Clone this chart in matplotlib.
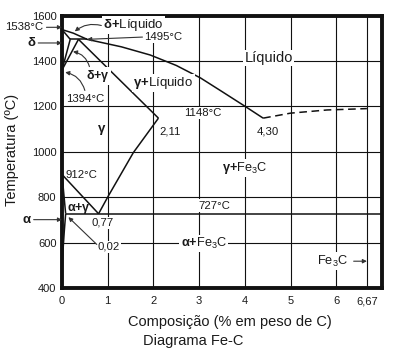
import matplotlib
matplotlib.use('Agg')
import matplotlib.pyplot as plt

plt.rcParams['font.family'] = ['Liberation Sans', 'DejaVu Sans']
plt.rcParams['mathtext.fontset'] = 'custom'
plt.rcParams['mathtext.rm'] = 'Liberation Sans'
plt.rcParams['mathtext.bf'] = 'Liberation Sans:bold'
plt.rcParams['mathtext.it'] = 'Liberation Sans:italic'

# ---------------- data ----------------
x_ticks = [0, 1, 2, 3, 4, 5, 6, 6.67]
x_tick_labels = ['0', '1', '2', '3', '4', '5', '6', '6,67']
y_ticks = [400, 600, 800, 1000, 1200, 1400, 1600]

liquidus_x = [0, 0.25, 0.55, 1.3, 1.93, 2.5, 3.03, 3.5, 4.02, 4.4]
liquidus_t = [1538, 1522, 1495, 1462, 1426, 1380, 1325, 1265, 1198, 1148]
delta_solidus_x = [0, 0.18]
delta_solidus_t = [1538, 1495]
peritectic_x = [0.18, 0.55]
peritectic_t = [1495, 1495]
delta_bound_x = [0.18, 0]
delta_bound_t = [1495, 1360]
gamma_upper_x = [0.36, 0]
gamma_upper_t = [1495, 1360]
gamma_solidus_x = [0.36, 2.11]
gamma_solidus_t = [1495, 1148]
acm_x = [0.8, 1.01, 1.56, 2.11]
acm_t = [727, 804, 996, 1148]
a3_x = [0, 0.8]
a3_t = [900, 727]
alpha_gamma_x = [0, 0.08]
alpha_gamma_t = [900, 727]
alpha_solvus_x = [0.08, 0.05, 0.02, 0]
alpha_solvus_t = [727, 650, 560, 470]
eutectoid_x = [0.08, 7.0]
eutectoid_t = [727, 727]
cem_x = [4.4, 5.0, 5.8, 6.67]
cem_t = [1148, 1170, 1184, 1190]

TXT = '#1a1a1a'

fig = plt.figure(figsize=(3.93, 3.54), dpi=100)
ax = fig.add_axes([62 / 393, 66 / 354, 320 / 393, 272.5 / 354])
ax.set_xlim(0, 7.0)
ax.set_ylim(400, 1600)
ax.set_xticks(x_ticks)
ax.set_xticklabels(x_tick_labels)
ax.set_yticks(y_ticks)
ax.tick_params(length=0, labelsize=8, colors=TXT)
ax.tick_params(axis='x', pad=6)
ax.tick_params(axis='y', pad=4)
for s in ax.spines.values():
    s.set_linewidth(2.8)
    s.set_color('#111111')
ax.grid(True, color='#111111', lw=0.8, zorder=1)
ax.set_axisbelow(True)

lk = dict(color='#111111', lw=1.1, zorder=2, solid_capstyle='butt')
for xs, ts in [(liquidus_x, liquidus_t), (delta_solidus_x, delta_solidus_t),
               (peritectic_x, peritectic_t), (delta_bound_x, delta_bound_t),
               (gamma_upper_x, gamma_upper_t), (gamma_solidus_x, gamma_solidus_t),
               (acm_x, acm_t), (a3_x, a3_t), (alpha_gamma_x, alpha_gamma_t),
               (alpha_solvus_x, alpha_solvus_t), (eutectoid_x, eutectoid_t)]:
    ax.plot(xs, ts, **lk)
ax.plot(cem_x, cem_t, color='#111111', lw=1.1, ls=(0, (5, 3)), zorder=2)

bb = dict(boxstyle='square,pad=0.1', fc='white', ec='none')


def lab(x, y, s, size=8.2, ha='left', va='center', box=True, **kw):
    ax.text(x, y, s, fontsize=size, ha=ha, va=va, color=TXT, zorder=4,
            bbox=bb if box else None, clip_on=False, **kw)


def arrow(xy, xytext, cs='arc3,rad=0'):
    ax.annotate('', xy=xy, xytext=xytext, annotation_clip=False,
                arrowprops=dict(arrowstyle='-|>', lw=0.8, color='#333333',
                                mutation_scale=6, shrinkA=0, shrinkB=0,
                                connectionstyle=cs), zorder=5)


lab(4.52, 1413, 'Líquido', size=10.5, ha='center')
lab(1.56, 1303, r'$\mathbf{γ{+}}$Líquido', size=9.5)
lab(0.9, 1558, r'$\mathbf{δ{+}}$Líquido', size=9.5)
lab(1.8, 1505, '1495°C')
lab(-0.42, 1548, '1538°C', ha='right', box=False)
lab(-0.55, 1479, r'$\mathbf{δ}$', size=9.5, ha='right', box=False)
lab(0.52, 1334, r'$\mathbf{δ{+}γ}$', size=9)
lab(0.1, 1233, '1394°C')
lab(0.86, 1096, r'$\mathbf{γ}$', size=9.5, ha='center')
lab(2.13, 1088, '2,11', box=False)
lab(4.25, 1089, '4,30', box=False)
lab(3.08, 1170, '1148°C', ha='center')
lab(3.99, 928, r'$\mathbf{γ{+}}$Fe$_3$C', size=9.2, ha='center')
lab(0.07, 899, '912°C', box=False)
lab(3.33, 763, '727°C', ha='center')
lab(0.1, 748, r'$\mathbf{α{+}γ}$', size=9, box=False)
lab(0.65, 687, '0,77')
lab(-0.65, 701, r'$\mathbf{α}$', size=9.5, ha='right', box=False)
lab(0.77, 581, '0,02')
lab(3.1, 596, r'$\mathbf{α{+}}$Fe$_3$C', size=9.2, ha='center')
lab(5.57, 518, 'Fe$_3$C', size=9.2)

arrow((0, 1548), (-0.34, 1548))
arrow((0, 1479), (-0.52, 1479))
arrow((0, 701), (-0.62, 701))
arrow((0.28, 1530), (0.86, 1556), cs='arc3,rad=0.25')
arrow((0.55, 1495), (1.76, 1505))
arrow((0.24, 1441), (0.6, 1375), cs='arc3,rad=0.3')
arrow((0.07, 1350), (0.5, 1270), cs='arc3,rad=0.3')
arrow((0.14, 712), (0.76, 592))
arrow((6.67, 518), (6.38, 518))

fig.text(12 / 393, 1 - 150 / 354, 'Temperatura (ºC)', rotation=90,
         ha='center', va='center', fontsize=10.5, color=TXT)
fig.text(230 / 393, 1 - 322 / 354, 'Composição (% em peso de C)',
         ha='center', va='center', fontsize=10.5, color=TXT)
fig.text(193 / 393, 1 - 341 / 354, 'Diagrama Fe-C',
         ha='center', va='center', fontsize=10.5, color=TXT)

fig.savefig('out.png', dpi=100)
